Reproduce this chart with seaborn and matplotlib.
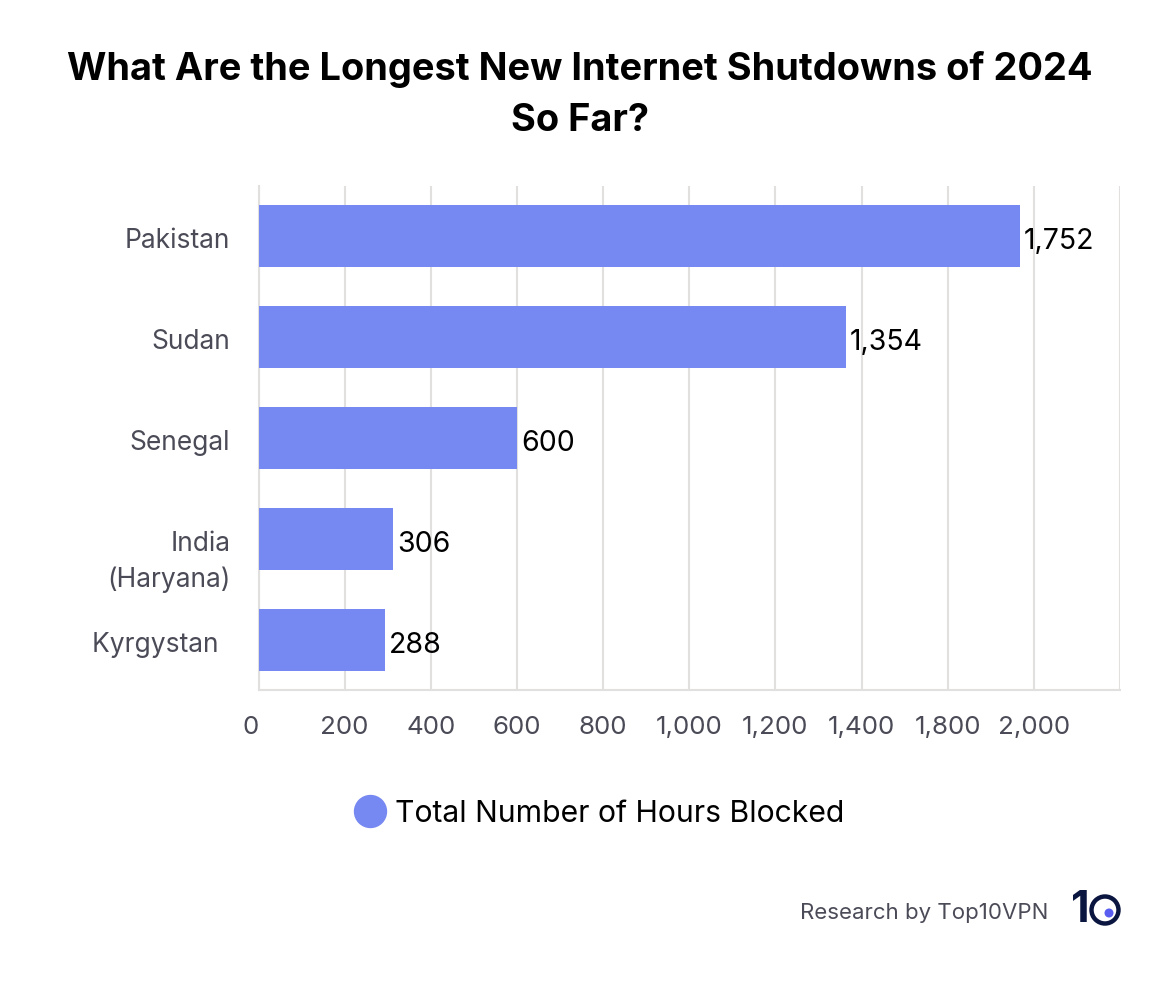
import matplotlib
matplotlib.use('Agg')
import matplotlib.pyplot as plt
from matplotlib.lines import Line2D
from matplotlib.patches import Circle
from matplotlib.transforms import ScaledTranslation
import seaborn as sns

countries = ['Pakistan', 'Sudan', 'Senegal', ' \nIndia\n(Haryana)', 'Kyrgystan\u00a0\u2009']
hours = [1768, 1364, 600, 312, 294]  # bar lengths as drawn on the gridlines
hour_labels = ['1,752', '1,354', '600', '306', '288']
x_ticks = [0, 200, 400, 600, 800, 1000, 1200, 1400, 1600, 1800, 2000]
x_tick_labels = ['0', '200', '400', '600', '800', '1,000', '1,200', '1,400', '1,800', '2,000', '']
legend_label = 'Total Number of Hours Blocked'

bar_color = '#7688f1'
grid_color = '#e2dfdf'
text_grey = '#4b4b58'
navy = '#0b1640'

sns.set_theme(style='white')
plt.rcParams['font.family'] = ['Inter', 'DejaVu Sans']

W, H = 1160, 982
fig = plt.figure(figsize=(W / 100, H / 100), dpi=100)
ax = fig.add_axes([258.5 / W, 1 - 690 / H, (1120 - 258.5) / W, (690 - 186) / H])

sns.barplot(x=hours, y=list(range(len(hours))), orient='h', color=bar_color,
            saturation=1, width=0.615, ax=ax, zorder=3, linewidth=0, edgecolor='none')

ax.set_xlim(0, 2000)
ax.set_ylim(4.5, -0.5)
ax.set_xticks(x_ticks)
ax.set_xticklabels(x_tick_labels)
ax.set_yticks(range(len(countries)))
ax.set_yticklabels(countries, linespacing=1.45)
ax.xaxis.grid(True, color=grid_color, linewidth=1.5, zorder=0)
ax.set_axisbelow(True)
ax.tick_params(axis='x', length=0, pad=19, labelsize=18.7, labelcolor=text_grey)
ax.tick_params(axis='y', length=0, pad=20.3, labelsize=19, labelcolor=text_grey)
ax.get_xticklabels()[0].set_ha('right')

# nudge category labels, the two line one sits higher
for i, lab in enumerate(ax.get_yticklabels()):
    dy = 1.6 if i == 3 else -1.5
    lab.set_transform(lab.get_transform() + ScaledTranslation(0, dy / 72, fig.dpi_scale_trans))

for side in ['top', 'right']:
    ax.spines[side].set_visible(False)
for side in ['left', 'bottom']:
    ax.spines[side].set_color(grid_color)
    ax.spines[side].set_linewidth(1.5)

for i, lab in enumerate(hour_labels):
    ax.annotate(lab, xy=(hours[i], i), xytext=(2.8, -4), textcoords='offset points',
                va='center', ha='left', fontsize=20.5, color='black', zorder=4)

fig.text(0.5, 1 - 69 / H, 'What Are the Longest New Internet Shutdowns of 2024',
         ha='center', va='center', fontsize=27.35, fontweight='bold', color='black')
fig.text(0.5, 1 - 121 / H, 'So Far?',
         ha='center', va='center', fontsize=27.35, fontweight='bold', color='black')

handle = Line2D([], [], linestyle='none', marker='o', markersize=23, color=bar_color)
fig.legend(handles=[handle], labels=[legend_label], loc='center',
           bbox_to_anchor=(592 / W, 1 - 814 / H), frameon=False, fontsize=21.7,
           handletextpad=-0.15, labelcolor='black')

fig.text(1048 / W, 1 - 913 / H, 'Research by Top10VPN', ha='right', va='center',
         fontsize=16, color=text_grey)

# logo
fig.text(1080 / W, 1 - 911 / H, '1', ha='center', va='center', fontsize=31,
         fontweight='bold', color=navy)
fig.add_artist(Circle((1105 / 100, (H - 910) / 100), 0.135, transform=fig.dpi_scale_trans,
                      fill=False, edgecolor=navy, linewidth=3.2))
fig.add_artist(Circle((1109 / 100, (H - 913) / 100), 0.045, transform=fig.dpi_scale_trans,
                      facecolor='#5a5ef0', edgecolor='none'))

fig.savefig('out.png', dpi=100, facecolor='white')
